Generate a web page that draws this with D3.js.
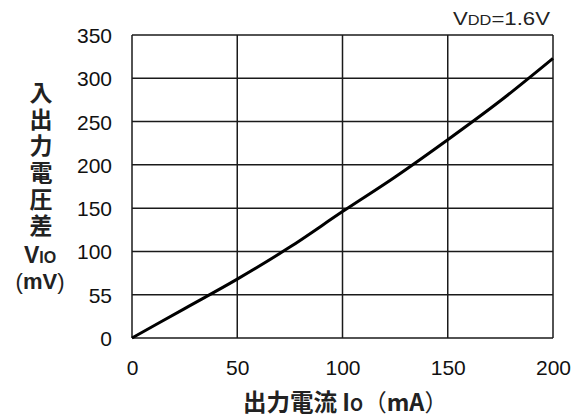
<!DOCTYPE html>
<html>
<head>
<meta charset="utf-8">
<script src="https://cdn.jsdelivr.net/npm/d3@7"></script>
<style>
  html, body { margin: 0; padding: 0; background: #fff; }
  svg { display: block; }
  .tick-label { font-family: "Liberation Sans", Arial, sans-serif; font-size: 21px; fill: #111; }
  .jp { font-family: "Noto Sans CJK JP", sans-serif; font-weight: 700; fill: #222; }
  .lat { font-family: "Liberation Sans", Arial, sans-serif; fill: #222; }
</style>
</head>
<body>
<svg id="chart" width="579" height="419"></svg>
<script>
// Output current Io (mA) and input-output voltage difference VIO (mV)
const currentMA = [0, 25, 50, 75, 100, 125, 150, 175, 200];
const voltageMV = [0, 34, 68, 105, 146, 186, 229, 274, 323];

// Axis tick values and their printed labels
const xTicks = [0, 50, 100, 150, 200];
const yTicks = [0, 50, 100, 150, 200, 250, 300, 350];
const yTickLabels = ["0", "55", "100", "150", "200", "250", "300", "350"];

const svg = d3.select("#chart");
const plot = { left: 132, right: 553, top: 35, bottom: 338 };

const x = d3.scaleLinear().domain([0, 200]).range([plot.left, plot.right]);
const y = d3.scaleLinear().domain([0, 350]).range([plot.bottom, plot.top]);

// Grid
const grid = svg.append("g").attr("stroke", "#1a1a1a").attr("stroke-width", 1.5);
grid.selectAll("line.v").data(xTicks).join("line")
  .attr("x1", d => x(d)).attr("x2", d => x(d))
  .attr("y1", plot.top).attr("y2", plot.bottom);
grid.selectAll("line.h").data(yTicks).join("line")
  .attr("x1", plot.left).attr("x2", plot.right)
  .attr("y1", d => y(d)).attr("y2", d => y(d));

// Tick labels via axes (no tick lines or domain)
const xAxis = svg.append("g")
  .attr("transform", `translate(0,${plot.bottom})`)
  .call(d3.axisBottom(x).tickValues(xTicks).tickSize(0).tickPadding(22).tickFormat(d3.format("d")));
const yAxis = svg.append("g")
  .attr("transform", `translate(${plot.left},0)`)
  .call(d3.axisLeft(y).tickValues(yTicks).tickSize(0).tickPadding(20)
    .tickFormat((d, i) => yTickLabels[i]));
[xAxis, yAxis].forEach(a => {
  a.select(".domain").remove();
  a.selectAll("text").attr("class", "tick-label").attr("fill", null);
  a.attr("font-family", null).attr("font-size", null);
});
xAxis.selectAll("text").attr("dy", "0.71em");
yAxis.selectAll("text").attr("dy", "0.36em");

// Curve
const line = d3.line()
  .x((d, i) => x(currentMA[i]))
  .y(d => y(d))
  .curve(d3.curveMonotoneX);
svg.append("path")
  .datum(voltageMV)
  .attr("d", line)
  .attr("fill", "none")
  .attr("stroke", "#000")
  .attr("stroke-width", 3)
  .attr("stroke-linejoin", "round");

// Condition label
const cond = svg.append("text").attr("class", "lat")
  .attr("x", 453).attr("y", 25).attr("font-size", 19)
  .attr("textLength", 97).attr("lengthAdjust", "spacingAndGlyphs");
cond.append("tspan").text("V");
cond.append("tspan").attr("font-size", 14).text("DD");
cond.append("tspan").text("=1.6V");

// Y axis title: vertical stack of characters
svg.append("text")
  .attr("class", "jp")
  .attr("x", 41).attr("y", 81)
  .attr("font-size", 23)
  .style("writing-mode", "vertical-rl")
  .style("letter-spacing", "3.6px")
  .text("入出力電圧差");
const vio = svg.append("text").attr("class", "lat")
  .attr("x", 40).attr("y", 263).attr("text-anchor", "middle")
  .attr("font-size", 23).attr("font-weight", 700);
vio.append("tspan").text("V");
vio.append("tspan").attr("font-size", 16).text("IO");
const mv = svg.append("text").attr("class", "lat")
  .attr("x", 40).attr("y", 289).attr("text-anchor", "middle")
  .attr("font-size", 22);
mv.append("tspan").text("(");
mv.append("tspan").attr("font-weight", 700).text("mV");
mv.append("tspan").text(")");

// X axis title
const xt = svg.append("text").attr("class", "jp")
  .attr("x", 243).attr("y", 411).attr("font-size", 23.5);
xt.append("tspan").text("出力電流 I");
xt.append("tspan").attr("font-size", 17).text("O");
xt.append("tspan").attr("font-weight", 400).text("（");
xt.append("tspan").text("mA");
xt.append("tspan").attr("font-weight", 400).text("）");
</script>
</body>
</html>
